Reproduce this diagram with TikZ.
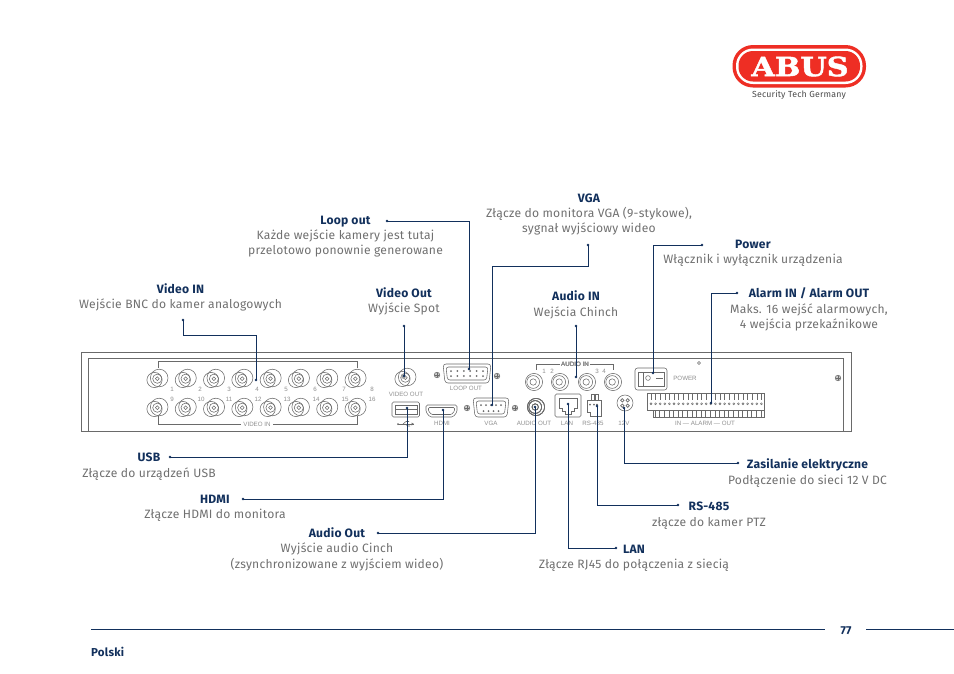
\documentclass[tikz,border=0pt]{standalone}
\usepackage{fontspec}
\setmainfont[LetterSpace=2]{Fira Sans}
\newfontfamily\smallfont{Liberation Sans}
\newfontfamily\logofont[BoldFeatures={FakeBold=1.6}]{DejaVu Serif}
\definecolor{navy}{HTML}{12305C}
\definecolor{desc}{HTML}{707070}
\definecolor{dev}{HTML}{6A6A6A}
\definecolor{abusred}{HTML}{EE2E24}
\newcommand\ttl[1]{{\bfseries\color{navy}#1}}
\tikzset{
  lbl/.style={align=center,inner sep=0pt,text=desc,font=\fontsize{12.1}{15.4}\selectfont},
  small/.style={inner sep=0pt,text=dev!75,font=\smallfont\fontsize{6.2}{7}\selectfont},
  conn/.style={navy,line width=0.95pt},
  endpt/.style={circle,fill=navy,inner sep=0pt,minimum size=2.6pt},
  devline/.style={dev,line width=0.55pt},
  frame/.style={dev,line width=0.85pt},
}
% connector shapes, drawn directly
\newcommand\bncshape[2]{%
  \draw[devline] (#1-2.5,#2+1) circle[radius=7.6];
  \draw[devline] (#1+2.2,#2-1) circle[radius=8.8];
  \draw[devline] (#1+0.3,#2-0.3) circle[radius=4.6];
  \draw[devline] (#1+0.3,#2-0.3) circle[radius=1.9];
}
\newcommand\rcashape[2]{%
  \draw[devline] (#1,#2) circle[radius=8.6];
  \draw[devline] (#1-0.8,#2) circle[radius=6.4];
  \draw[devline] (#1-0.8,#2) circle[radius=3.2];
}
\newcommand\screw[2]{%
  \draw[devline,fill=dev!35] (#1,#2) circle[radius=2.8];
  \draw[dev,line width=0.4pt] (#1-2,#2)--(#1+2,#2) (#1,#2-2)--(#1,#2+2);
}
\begin{document}
\begin{tikzpicture}[x=1pt,y=-1pt]
\useasboundingbox (0,0) rectangle (954,673);
\fill[white] (0,0) rectangle (954,673);

% logo
\fill[abusred,rounded corners=20.5] (732.5,45) rectangle (866,87.5);
\fill[white,rounded corners=17] (736,48.5) rectangle (862.5,84);
\fill[abusred,rounded corners=14.5] (738.5,51) rectangle (860,81.5);
\node[inner sep=0pt,text=white,xscale=1.14,transform shape,font=\logofont\bfseries\fontsize{26.5}{26.5}\selectfont] (abus) at (800,66.5) {ABUS};
\node[inner sep=0pt,text=black!70,font=\fontsize{8.8}{10}\selectfont] (tagline) at (799,95.5) {Security Tech Germany};

% device frame
\draw[frame] (81,352) rectangle (851,431);
\draw[frame] (88,431) -- (88,358) -- (843,358) -- (843,431);

% BNC inputs
\foreach \i in {0,...,7}{
  \pgfmathsetmacro\cx{157+28.3*\i}
  \bncshape{\cx}{379}
  \bncshape{\cx}{408}
}
\foreach \n/\x in {1/172,2/200,3/229,4/257,5/286,6/315,7/344,8/372}
  \node[small] (num\n) at (\x,389) {\n};
\foreach \n/\x in {9/172,10/201,11/229,12/258,13/287,14/316,15/345,16/372}
  \node[small] (num\n) at (\x,399) {\n};
\draw[devline,line width=0.8pt] (158,368) -- (158,361.5) -- (357,361.5) -- (357,368);
\node[small] (videoinlab) at (257,424) {VIDEO IN};
\draw[devline,line width=0.8pt] (158,416) -- (158,424) -- ([xshift=-2pt]videoinlab.west);
\draw[devline,line width=0.8pt] (357,416) -- (357,424) -- ([xshift=2pt]videoinlab.east);

% video out
\bncshape{405}{378}
\fill[dev!60] (403.5,376.5) circle[radius=2.4];
\node[small] (videooutlab) at (406,394) {VIDEO OUT};

% loop out
\draw[devline,rounded corners=3] (443,364) -- (491,364) -- (489,383) -- (445,383) -- cycle;
\draw[devline,rounded corners=2.5] (446,367) -- (488,367) -- (486.5,380) -- (447.5,380) -- cycle;
\foreach \i in {0,...,5} \fill[dev] (451+6.4*\i,371) circle[radius=1];
\foreach \i in {0,...,5} \fill[dev] (451+6.4*\i,376) circle[radius=1];
\screw{437}{375}\screw{497}{376}
\node[small] (loopoutlab) at (466,388) {LOOP OUT};

% VGA
\draw[devline,rounded corners=3] (473,398) -- (509,398) -- (507,417) -- (475,417) -- cycle;
\draw[devline,rounded corners=2.5] (476,401) -- (506,401) -- (504.5,414) -- (477.5,414) -- cycle;
\foreach \i in {0,...,4} \fill[dev] (481+5*\i,405) circle[radius=1];
\foreach \i in {0,...,3} \fill[dev] (483.5+5*\i,411) circle[radius=1];
\screw{467}{408}\screw{515}{408}
\node[small] (vgalab) at (491,423) {VGA};

% USB
\draw[devline,rounded corners=1.5] (392,402) rectangle (419.5,417);
\draw[devline] (395,405) rectangle (417,414);
\draw[devline] (395,409.5) -- (417,409.5);
\draw[devline] (398,424) -- (414,424);
\draw[devline] (403,424) -- (406,421.5) -- (409,421.5) (405,424) -- (408,426) -- (410,426);
\fill[dev] (414,424) -- (411.5,422.5) -- (411.5,425.5) -- cycle;
\fill[dev] (398,424) circle[radius=1];

% HDMI
\draw[devline,rounded corners=1.5] (426,405) -- (457,405) -- (457,412) -- (453,417) -- (430,417) -- (426,412) -- cycle;
\draw[devline,rounded corners=1] (428.5,407.5) -- (454.5,407.5) -- (454.5,411) -- (451.5,414.5) -- (431.5,414.5) -- (428.5,411) -- cycle;
\node[small] (hdmilab) at (442,423) {HDMI};

% audio
\foreach \x in {534,560,587,613} \rcashape{\x}{382}
\rcashape{536}{407}
\node[small] (audioinlab) at (575,364) {AUDIO IN};
\draw[devline,line width=0.8pt] (536,369.5) -- (536,364) -- ([xshift=-1.5pt]audioinlab.west);
\draw[devline,line width=0.8pt] (613,369.5) -- (613,364) -- ([xshift=1.5pt]audioinlab.east);
\foreach \n/\x/\m in {1/544/a,2/552/b,3/597/c,4/604/d}
  \node[small] (ain\m) at (\x,371) {\n};
\node[small] (audiooutlab) at (534,423) {AUDIO OUT};

% LAN
\draw[devline,rounded corners=1.5] (555,394) rectangle (581,417);
\draw[devline] (559,398) -- (577,398) -- (577,408) -- (574,408) -- (574,411) -- (571,411) -- (571,414) -- (565,414) -- (565,411) -- (562,411) -- (562,408) -- (559,408) -- cycle;
\node[small] (lanlab) at (567,423) {LAN};

% RS-485
\draw[devline] (587,400) -- (601,400) -- (601,416) -- (590,416) -- (590,412) -- (587,412) -- cycle;
\draw[devline] (591,400) -- (591,394.5) -- (594,394.5) -- (594,400) (595.5,400) -- (595.5,394.5) -- (598.5,394.5) -- (598.5,400);
\foreach \x in {590,594,597} \fill[dev] (\x,404.5) circle[radius=1];
\node[small] (rslab) at (593,423) {RS-485};

% 12 V
\draw[devline] (625,403) circle[radius=8];
\foreach \dx/\dy in {-2.7/-2.7,2.7/-2.7,-2.7/2.7,2.7/2.7}
  \draw[dev,line width=0.7pt] (625+\dx,403+\dy) circle[radius=1.7];
\node[small] (vlab) at (624,423) {12V};

% power
\draw[devline,rounded corners=2.5] (635,368) rectangle (667,390);
\draw[devline] (638,372) rectangle (664,386);
\draw[devline] (643,372) -- (643,386);
\draw[devline] (648,378) circle[radius=2.4];
\draw[dev,line width=1pt] (656,378) -- (663,378);
\node[small] (powerlab) at (685,378) {POWER};
\draw[devline] (699,363) circle[radius=1.5];
\screw{838}{378}

% alarm terminal
\draw[devline] (764,393) -- (647,393) -- (647,410) -- (653,410) -- (653,417) -- (764,417) -- cycle;
\foreach \i in {0,...,24}{
  \pgfmathsetmacro\tx{651+4.6*\i}
  \draw[dev,line width=0.45pt] (\tx,393) -- (\tx,400);
  \draw[dev,line width=0.45pt] (\tx,403.8) circle[radius=1];
}
\foreach \i in {0,...,23}{
  \pgfmathsetmacro\tx{655+4.6*\i}
  \draw[dev,line width=0.45pt] (\tx,410) -- (\tx,417);
}
\draw[devline] (653,410) -- (764,410);
\node[small] (alarmlab) at (705,423) {IN — ALARM — OUT};

% port ends of connectors
\node[endpt] (pVideoIn) at (256,380) {};
\node[endpt] (pLoop) at (469,369) {};
\node[endpt] (pVGA) at (492,405) {};
\node[endpt] (pVideoOut) at (404,376) {};
\node[endpt] (pAudioIn) at (576,377) {};
\node[endpt] (pPower) at (653,373) {};
\node[endpt] (pAlarm) at (711,403) {};
\node[endpt] (pUSB) at (407,408) {};
\node[endpt] (pHDMI) at (443,410) {};
\node[endpt] (pAudioOut) at (535,407) {};
\node[endpt] (pLAN) at (568,404) {};
\node[endpt] (pRS) at (597,406) {};
\node[endpt] (pV) at (624,408) {};
% free ends
\node[endpt] (fVideoIn) at (183,320) {};
\node[endpt] (fLoop) at (387,221) {};
\node[endpt] (fVGA) at (588,245) {};
\node[endpt] (fVideoOut) at (404,326) {};
\node[endpt] (fAudioIn) at (576,326) {};
\node[endpt] (fPower) at (702,245) {};
\node[endpt] (fAlarm) at (737,293) {};
\node[endpt] (fUSB) at (170,457) {};
\node[endpt] (fHDMI) at (243,499) {};
\node[endpt] (fAudioOut) at (378,533) {};
\node[endpt] (fLAN) at (616,548) {};
\node[endpt] (fRS) at (678,505) {};
\node[endpt] (fV) at (738,463) {};

% connectors
\draw[conn] (fVideoIn.center) -- (fVideoIn |- 0,335) -- (pVideoIn |- 0,335) -- (pVideoIn.center);
\draw[conn] (fLoop.center) -| (pLoop.center);
\draw[conn] (fVGA.center) -- (fVGA |- 0,266) -- (pVGA |- 0,266) -- (pVGA.center);
\draw[conn] (fVideoOut.center) -- (pVideoOut.center);
\draw[conn] (fAudioIn.center) -- (pAudioIn.center);
\draw[conn] (fPower.center) -| (pPower.center);
\draw[conn] (fAlarm.center) -| (pAlarm.center);
\draw[conn] (fUSB.center) -| (pUSB.center);
\draw[conn] (fHDMI.center) -| (pHDMI.center);
\draw[conn] (fAudioOut.center) -| (pAudioOut.center);
\draw[conn] (fLAN.center) -| (pLAN.center);
\draw[conn] (fRS.center) -| (pRS.center);
\draw[conn] (fV.center) -| (pV.center);

% labels
\node[lbl] (tVideoIn) at (180.5,297.5) {\ttl{Video IN}\\Wejście BNC do kamer analogowych};
\node[lbl] (tLoop) at (345.5,236.5) {\ttl{Loop out}\\Każde wejście kamery jest tutaj\\przelotowo ponownie generowane};
\node[lbl] (tVGA) at (589,214.5) {\ttl{VGA}\\Złącze do monitora VGA (9-stykowe),\\sygnał wyjściowy wideo};
\node[lbl] (tPower) at (753,253) {\ttl{Power}\\Włącznik i wyłącznik urządzenia};
\node[lbl] (tVideoOut) at (404,301.5) {\ttl{Video Out}\\Wyjście Spot};
\node[lbl] (tAudioIn) at (576,305) {\ttl{Audio IN}\\Wejścia Chinch};
\node[lbl] (tAlarm) at (809,309.5) {\ttl{Alarm IN / Alarm OUT}\\Maks. 16 wejść alarmowych,\\4 wejścia przekaźnikowe};
\node[lbl] (tUSB) at (149,466.5) {\ttl{USB}\\Złącze do urządzeń USB};
\node[lbl] (tHDMI) at (215,508.5) {\ttl{HDMI}\\Złącze HDMI do monitora};
\node[lbl] (tAudioOut) at (337,549) {\ttl{Audio Out}\\Wyjście audio Cinch\\(zsynchronizowane z wyjściem wideo)};
\node[lbl] (tV) at (807.5,473) {\ttl{Zasilanie elektryczne}\\Podłączenie do sieci 12 V DC};
\node[lbl] (tRS) at (709,515.5) {\ttl{RS-485}\\złącze do kamer PTZ};
\node[lbl] (tLAN) at (634,558) {\ttl{LAN}\\Złącze RJ45 do połączenia z siecią};

% footer
\draw[navy,line width=0.9pt] (91,629.5) -- (825,629.5);
\draw[navy,line width=0.9pt] (866,629.5) -- (954,629.5);
\node[inner sep=0pt,font=\fontsize{11.5}{13}\selectfont] (pagenum) at (846,630.5) {\ttl{77}};
\node[inner sep=0pt,anchor=west,font=\fontsize{11.5}{13}\selectfont] (lang) at (91,652) {\ttl{Polski}};
\end{tikzpicture}
\end{document}
